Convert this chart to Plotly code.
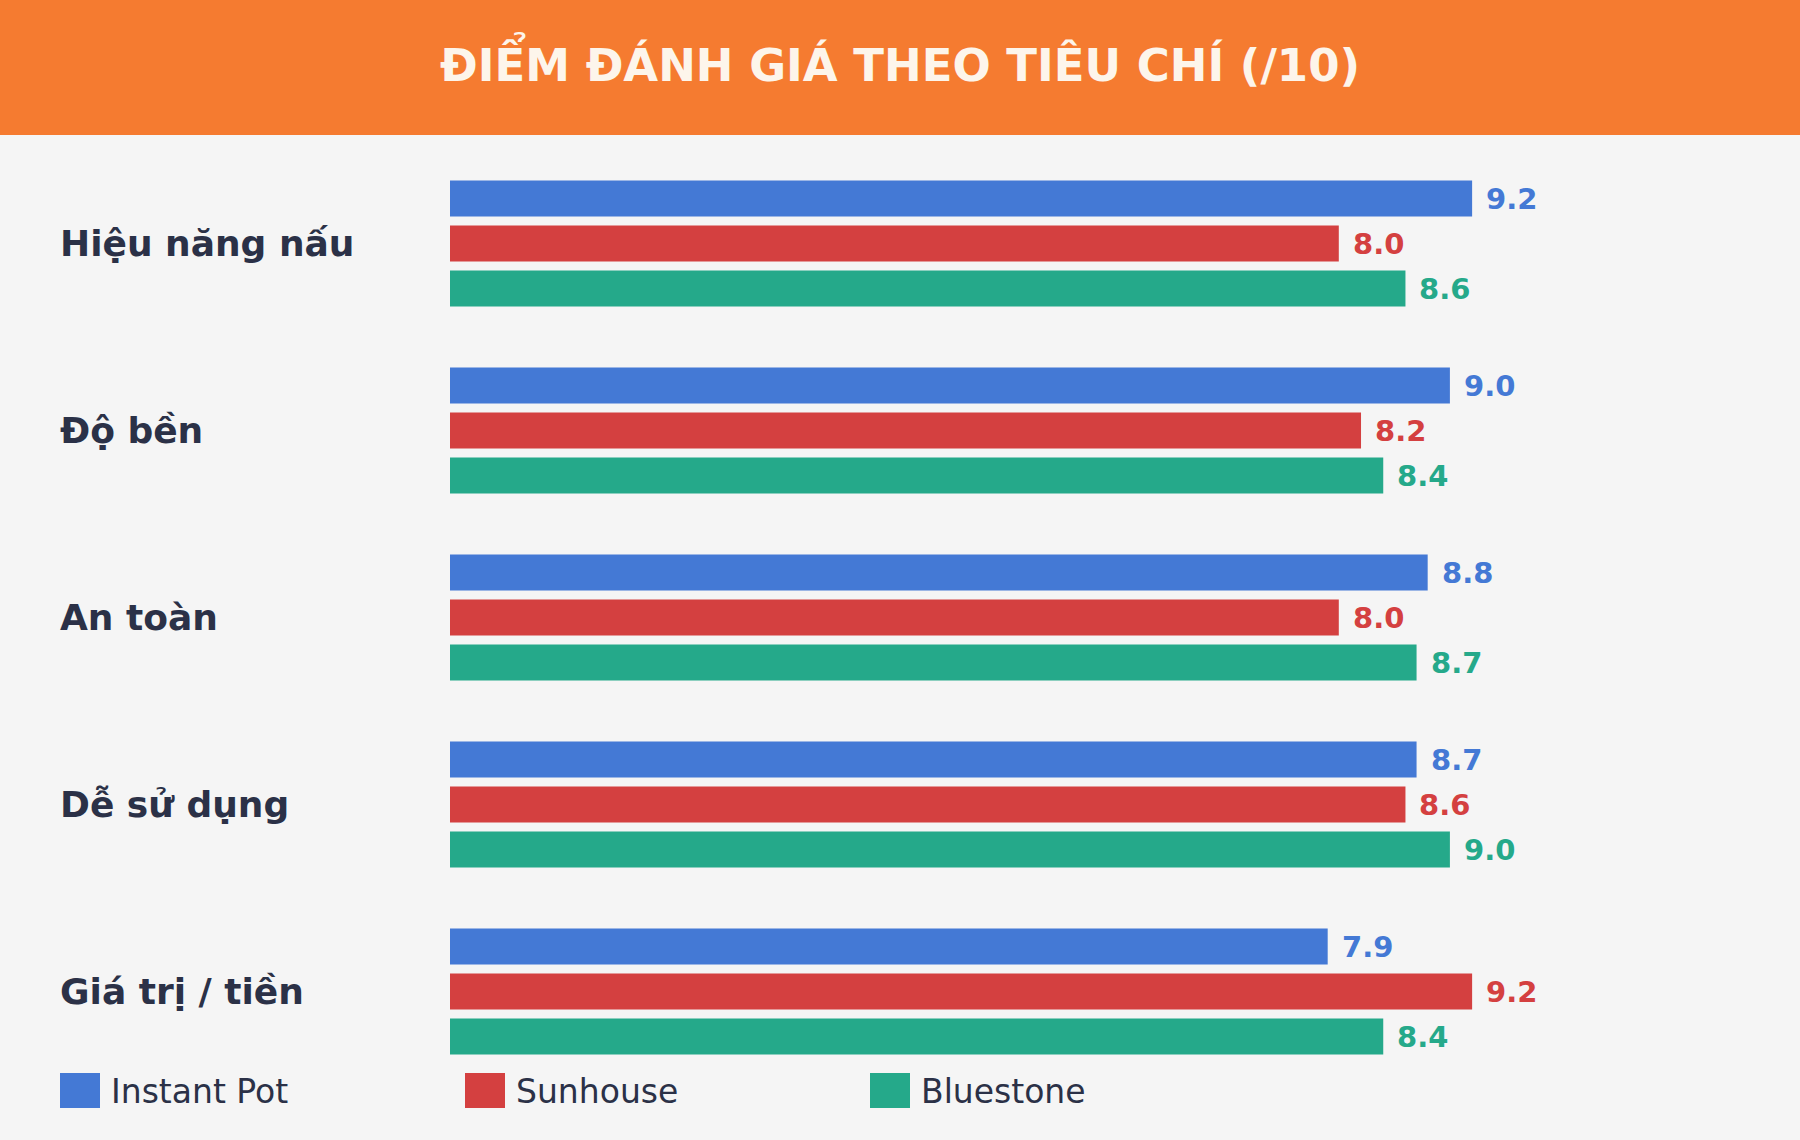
import plotly.graph_objects as go


criteria = ["Hiệu năng nấu", "Độ bền", "An toàn", "Dễ sử dụng", "Giá trị / tiền"]
brands = ["Instant Pot", "Sunhouse", "Bluestone"]
instantPot = [9.2, 9.0, 8.8, 8.7, 7.9]
sunhouse = [8.0, 8.2, 8.0, 8.6, 9.2]
bluestone = [8.6, 8.4, 8.7, 9.0, 8.4]
colors = ["#4479D5", "#D44040", "#25A98A"]
titleText = "ĐIỂM ĐÁNH GIÁ THEO TIÊU CHÍ (/10)"

W, H = 1800, 1140
L, R, T, B = 450, 239, 150, 55
pw = W - L - R
ph = H - T - B


def px(x):
    return (x - L) / pw


def py(y):
    return (H - B - y) / ph


font = "DejaVu Sans"
dark = "#2B3147"

fig = go.Figure()

series = [instantPot, sunhouse, bluestone]
for name, values, color in zip(brands, series, colors):
    fig.add_trace(go.Bar(
        x=values, y=criteria, name=name, orientation="h",
        marker=dict(color=color, line=dict(width=0)),
        showlegend=False, hoverinfo="skip",
    ))

annotations = []

# value labels next to each bar
shifts = [45, 0, -45]
for values, color, shift in zip(series, colors, shifts):
    for cat, v in zip(criteria, values):
        annotations.append(dict(
            x=v, y=cat, xref="x", yref="y", text="%.1f" % v,
            showarrow=False, xanchor="left", yanchor="middle",
            xshift=12, yshift=shift,
            font=dict(family=font, size=29, color=color, weight="bold"),
        ))

# category labels, left aligned
for cat in criteria:
    annotations.append(dict(
        x=px(58), y=cat, xref="paper", yref="y", text=cat,
        showarrow=False, xanchor="left", yanchor="middle",
        font=dict(family=font, size=36, color=dark, weight="bold"),
    ))

# title
annotations.append(dict(
    x=px(900), y=py(62), xref="paper", yref="paper", text=titleText,
    showarrow=False, xanchor="center", yanchor="middle",
    font=dict(family=font, size=45, color="#FDF5EB", weight="bold"),
))

shapes = [dict(
    type="rect", xref="paper", yref="paper", layer="below",
    x0=px(0), x1=px(W), y0=py(135), y1=py(0),
    fillcolor="#F57B30", line=dict(width=0),
)]

# legend drawn by hand, big swatches
for i, (name, color) in enumerate(zip(brands, colors)):
    x0 = 60 + i * 405
    shapes.append(dict(
        type="rect", xref="paper", yref="paper",
        x0=px(x0), x1=px(x0 + 40), y0=py(1108), y1=py(1073),
        fillcolor=color, line=dict(width=0),
    ))
    annotations.append(dict(
        x=px(x0 + 49), y=py(1091), xref="paper", yref="paper", text=name,
        showarrow=False, xanchor="left", yanchor="middle",
        font=dict(family=font, size=33, color=dark),
    ))

fig.update_layout(
    width=W, height=H,
    margin=dict(l=L, r=R, t=T, b=B, pad=0),
    paper_bgcolor="#F5F5F5",
    plot_bgcolor="#F5F5F5",
    barmode="group",
    bargap=0.278,
    bargroupgap=0.2,
    xaxis=dict(range=[0, 10], visible=False, fixedrange=True),
    yaxis=dict(autorange="reversed", showticklabels=False, showgrid=False,
               zeroline=False, showline=False, ticks=""),
    annotations=annotations,
    shapes=shapes,
    font=dict(family=font),
)

fig.write_html("out.html", config={"displayModeBar": False},
               post_script="document.body.style.margin='0';")
